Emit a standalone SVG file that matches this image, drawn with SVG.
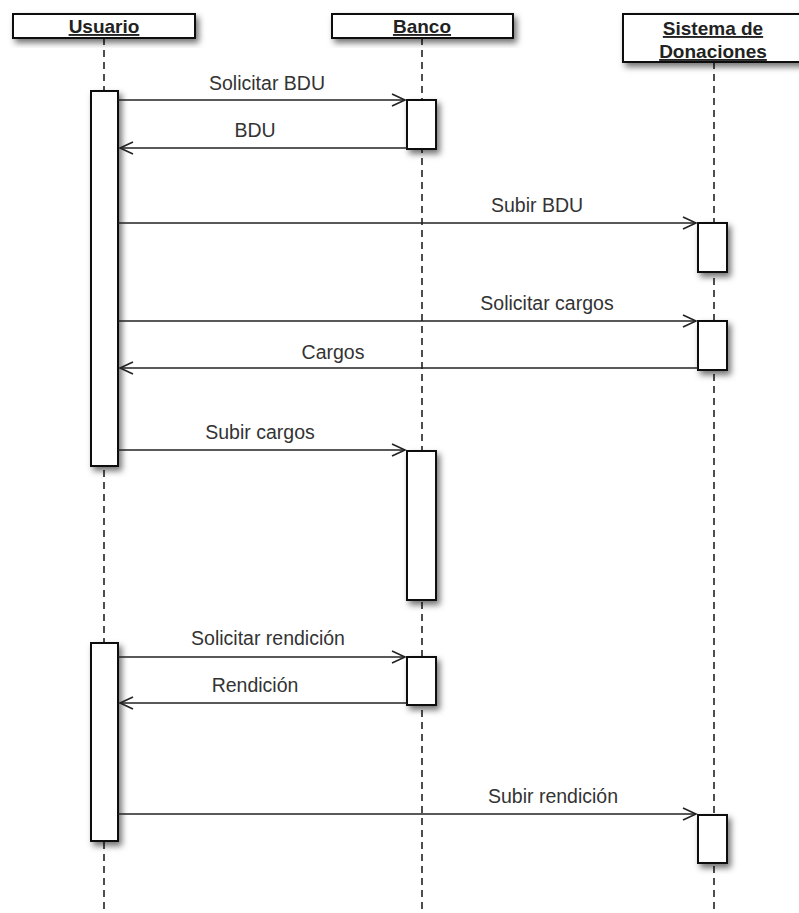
<svg xmlns="http://www.w3.org/2000/svg" width="799" height="913" viewBox="0 0 799 913">
<style>
.hdr{fill:#fff;stroke:#111;stroke-width:2}
.act{fill:#fff;stroke:#111;stroke-width:2}
.life{stroke:#222;stroke-width:1.6;stroke-dasharray:7,5;fill:none}
.msg{stroke:#222;stroke-width:1.6;fill:none}
.ht{font-family:"Liberation Sans",Arial,sans-serif;font-weight:bold;font-size:19px;fill:#222;text-anchor:middle;text-decoration:underline}
.lbl{font-family:"Liberation Sans",Arial,sans-serif;font-size:19.5px;fill:#333;text-anchor:middle}
</style>
<defs>
<filter id="sh" x="-30%" y="-30%" width="170%" height="170%">
<feDropShadow dx="3" dy="4" stdDeviation="3" flood-color="#000" flood-opacity="0.55"/>
</filter>
<marker id="open" markerWidth="16" markerHeight="14" refX="14" refY="7" orient="auto" markerUnits="userSpaceOnUse">
<path d="M1,1 L14,7 L1,13" fill="none" stroke="#222" stroke-width="1.6"/>
</marker>
</defs>
<rect width="799" height="913" fill="#fff"/>

<g id="lifelines">
<line class="life" x1="104" y1="38" x2="104" y2="913"/>
<line class="life" x1="422" y1="38" x2="422" y2="913"/>
<line class="life" x1="714" y1="62" x2="714" y2="913"/>
</g>

<g id="usuario">
<rect class="hdr" x="13" y="14" width="182" height="24" filter="url(#sh)"/>
<text class="ht" x="104" y="33">Usuario</text>
<rect class="act" x="91" y="91" width="27" height="375" filter="url(#sh)"/>
<rect class="act" x="91" y="643" width="27" height="198" filter="url(#sh)"/>
</g>

<g id="banco">
<rect class="hdr" x="332" y="14" width="181" height="24" filter="url(#sh)"/>
<text class="ht" x="422" y="33">Banco</text>
<rect class="act" x="407" y="100" width="29" height="49" filter="url(#sh)"/>
<rect class="act" x="407" y="451" width="29" height="149" filter="url(#sh)"/>
<rect class="act" x="407" y="657" width="29" height="48" filter="url(#sh)"/>
</g>

<g id="sistema">
<rect class="hdr" x="623" y="14" width="182" height="48" filter="url(#sh)"/>
<text class="ht" x="713" y="35">Sistema de</text>
<text class="ht" x="713" y="58">Donaciones</text>
<rect class="act" x="698" y="223" width="29" height="49" filter="url(#sh)"/>
<rect class="act" x="698" y="321" width="29" height="49" filter="url(#sh)"/>
<rect class="act" x="698" y="815" width="29" height="48" filter="url(#sh)"/>
</g>

<g id="connectors">
<line class="msg" x1="118" y1="100" x2="405" y2="100" marker-end="url(#open)"/>
<text class="lbl" x="267" y="90">Solicitar BDU</text>
<line class="msg" x1="407" y1="148" x2="120" y2="148" marker-end="url(#open)"/>
<text class="lbl" x="255" y="137">BDU</text>
<line class="msg" x1="118" y1="223" x2="696" y2="223" marker-end="url(#open)"/>
<text class="lbl" x="537" y="212">Subir BDU</text>
<line class="msg" x1="118" y1="321" x2="696" y2="321" marker-end="url(#open)"/>
<text class="lbl" x="547" y="310">Solicitar cargos</text>
<line class="msg" x1="698" y1="368" x2="120" y2="368" marker-end="url(#open)"/>
<text class="lbl" x="333" y="359">Cargos</text>
<line class="msg" x1="118" y1="450" x2="405" y2="450" marker-end="url(#open)"/>
<text class="lbl" x="260" y="439">Subir cargos</text>
<line class="msg" x1="118" y1="657" x2="405" y2="657" marker-end="url(#open)"/>
<text class="lbl" x="268" y="645">Solicitar rendición</text>
<line class="msg" x1="407" y1="703" x2="120" y2="703" marker-end="url(#open)"/>
<text class="lbl" x="255" y="692">Rendición</text>
<line class="msg" x1="118" y1="814" x2="696" y2="814" marker-end="url(#open)"/>
<text class="lbl" x="553" y="803">Subir rendición</text>
</g>
</svg>
